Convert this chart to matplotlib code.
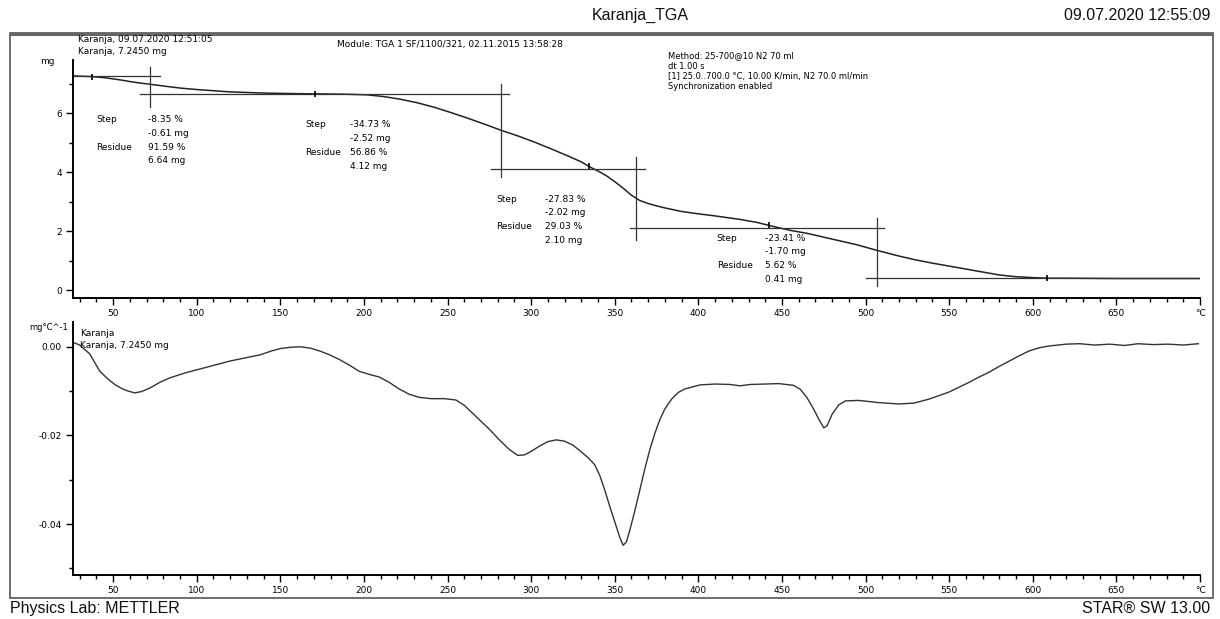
"""Karanja TGA / DTG thermogram (METTLER STAR-style printout)."""
import matplotlib

matplotlib.use("Agg")
import matplotlib.pyplot as plt
from matplotlib.patches import Rectangle
from matplotlib.ticker import MultipleLocator

# --- TGA curve (mass, mg) ---
tga_temp = [26, 37, 45, 50, 55, 60, 66, 72, 80, 90, 100, 110, 120, 140, 160, 175,
            190, 202, 212, 222, 232, 242, 252, 262, 272, 282, 292, 302, 312, 322,
            330, 335, 340, 345, 350, 355, 360, 365, 370, 375, 380, 390, 400, 410,
            425, 435, 445, 455, 465, 475, 485, 495, 507, 520, 530, 540, 550, 560,
            570, 580, 590, 600, 610, 620, 650, 700]
tga_mass = [7.26, 7.24, 7.20, 7.16, 7.12, 7.07, 7.02, 6.98, 6.92, 6.85, 6.80, 6.76,
            6.72, 6.68, 6.66, 6.65, 6.64, 6.62, 6.56, 6.47, 6.35, 6.20, 6.02, 5.83,
            5.63, 5.42, 5.23, 5.02, 4.79, 4.55, 4.35, 4.18, 4.04, 3.88, 3.68, 3.46,
            3.22, 3.04, 2.94, 2.86, 2.79, 2.67, 2.59, 2.52, 2.40, 2.30, 2.16, 2.03,
            1.93, 1.80, 1.67, 1.54, 1.35, 1.16, 1.03, 0.92, 0.82, 0.72, 0.62, 0.52,
            0.46, 0.43, 0.41, 0.41, 0.40, 0.40]

# --- DTG curve (mg/°C) ---
dtg_temp = [26, 30, 36, 42, 47, 51, 55, 59, 63, 67, 72, 78, 84, 93, 102, 120, 138,
            145, 150, 156, 162, 168, 174, 180, 186, 192, 197, 203, 209, 215, 221,
            227, 233, 240, 248, 255, 260, 265, 270, 275, 281, 287, 292, 296, 300,
            305, 310, 315, 320, 325, 329, 334, 338, 341, 344, 347, 350, 353, 355,
            357, 359, 362, 365, 368, 371, 374, 377, 380, 384, 388, 392, 401, 410,
            419, 425, 431, 440, 448, 457, 461, 465, 469, 472, 475, 477, 480, 484,
            488, 496, 508, 520, 529, 538, 544, 550, 556, 562, 568, 574, 580, 586,
            592, 598, 604, 610, 620, 628, 637, 646, 655, 663, 672, 681, 690, 699]
dtg_val = [0.0010, 0.0004, -0.0016, -0.0055, -0.0073, -0.0085, -0.0094, -0.0100,
           -0.0104, -0.0101, -0.0093, -0.0080, -0.0070, -0.0059, -0.0050, -0.0032,
           -0.0018, -0.0009, -0.0004, -0.0001, 0.0000, -0.0003, -0.0010, -0.0019,
           -0.0030, -0.0043, -0.0055, -0.0062, -0.0068, -0.0080, -0.0095, -0.0107,
           -0.0114, -0.0117, -0.0117, -0.0120, -0.0132, -0.0150, -0.0168, -0.0186,
           -0.0210, -0.0232, -0.0245, -0.0244, -0.0236, -0.0224, -0.0214, -0.0210,
           -0.0213, -0.0222, -0.0234, -0.0250, -0.0266, -0.0290, -0.0323, -0.0360,
           -0.0395, -0.0430, -0.0448, -0.0440, -0.0414, -0.0370, -0.0323, -0.0275,
           -0.0232, -0.0195, -0.0164, -0.0140, -0.0118, -0.0103, -0.0095, -0.0086,
           -0.0084, -0.0085, -0.0088, -0.0085, -0.0084, -0.0083, -0.0087, -0.0096,
           -0.0115, -0.0141, -0.0163, -0.0183, -0.0178, -0.0152, -0.0131, -0.0122,
           -0.0121, -0.0126, -0.0129, -0.0127, -0.0118, -0.0110, -0.0102, -0.0091,
           -0.0080, -0.0068, -0.0057, -0.0044, -0.0032, -0.0020, -0.0009, -0.0002,
           0.0002, 0.0006, 0.0007, 0.0004, 0.0006, 0.0003, 0.0007, 0.0005, 0.0006,
           0.0004, 0.0007]

# --- step evaluation ---
level_mass = [7.245, 6.64, 4.12, 2.10, 0.41]
level_from = [26, 66, 276, 359, 500]
level_to = [78, 287, 368, 511, 699]
cut_temp = [72, 282, 362.5, 507]
cut_top = [7.55, 6.98, 4.51, 2.45]
cut_bottom = [6.20, 3.83, 1.71, 0.15]
mark_temp = [37.5, 171, 334.5, 442, 608.5]
mark_mass = [7.24, 6.65, 4.22, 2.20, 0.41]

step_pct = ["-8.35 %", "-34.73 %", "-27.83 %", "-23.41 %"]
step_mg = ["-0.61 mg", "-2.52 mg", "-2.02 mg", "-1.70 mg"]
residue_pct = ["91.59 %", "56.86 %", "29.03 %", "5.62 %"]
residue_mg = ["6.64 mg", "4.12 mg", "2.10 mg", "0.41 mg"]
label_temp = [40, 165, 279, 411]
value_temp = [71, 191.5, 308, 440]
label_top = [5.79, 5.62, 3.09, 1.77]

x_ticks = [50, 100, 150, 200, 250, 300, 350, 400, 450, 500, 550, 600, 650, 700]
x_labels = [str(t) for t in x_ticks[:-1]] + ["°C"]

W, H = 1220, 619
FS = 6.5
INK = "#222222"


def fx(x):
    return x / W


def fy(y):
    return 1 - y / H


def style_axes(ax):
    for side in ("top", "right"):
        ax.spines[side].set_visible(False)
    for side in ("left", "bottom"):
        ax.spines[side].set_linewidth(1.4)
        ax.spines[side].set_color("black")
    ax.set_facecolor("none")
    ax.set_xlim(26, 700)
    ax.set_xticks(x_ticks)
    ax.set_xticklabels(x_labels)
    ax.xaxis.set_minor_locator(MultipleLocator(10))
    ax.tick_params(which="major", length=5, width=1, labelsize=FS, pad=3)
    ax.tick_params(which="minor", length=3, width=1)


fig = plt.figure(figsize=(W / 100, H / 100), dpi=100)

# outer frame and header/footer
fig.patches.append(Rectangle((fx(10), fy(598)), fx(1203), (598 - 33) / H,
                             transform=fig.transFigure, fill=False,
                             edgecolor="#555555", linewidth=1.2))
fig.patches.append(Rectangle((fx(10), fy(34)), fx(1203), 0,
                             transform=fig.transFigure, fill=False,
                             edgecolor="#666666", linewidth=2.2))
hdr = dict(family="Liberation Sans", fontsize=11.5, color="#111111", va="center")
fig.text(fx(640), fy(15), "Karanja_TGA", ha="center", **hdr)
fig.text(fx(1210), fy(15), "09.07.2020 12:55:09", ha="right", **hdr)
fig.text(fx(10), fy(608), "Physics Lab: METTLER", ha="left", **hdr)
fig.text(fx(1210), fy(608), "STAR\u00ae SW 13.00", ha="right", **hdr)

# ---------------- TGA panel ----------------
ax1 = fig.add_axes([fx(73), fy(298), fx(1200) - fx(73), (298 - 60) / H])
style_axes(ax1)
ax1.set_ylim(-0.26, 7.8)
ax1.set_yticks([0, 2, 4, 6])
ax1.yaxis.set_minor_locator(MultipleLocator(1))
ax1.plot(tga_temp, tga_mass, color=INK, lw=1.1)
for m, a, b in zip(level_mass, level_from, level_to):
    ax1.plot([a, b], [m, m], color="#333333", lw=0.9)
for t, a, b in zip(cut_temp, cut_top, cut_bottom):
    ax1.plot([t, t], [a, b], color="#333333", lw=0.9)
ax1.plot(mark_temp, mark_mass, ls="none", marker="|", ms=5, mew=1.2, color="black")
for i in range(4):
    rows = [label_top[i] - k * 0.47 for k in range(4)]
    ax1.text(label_temp[i], rows[0], "Step", fontsize=FS, va="center")
    ax1.text(label_temp[i], rows[2], "Residue", fontsize=FS, va="center")
    for r, s in zip(rows, [step_pct[i], step_mg[i], residue_pct[i], residue_mg[i]]):
        ax1.text(value_temp[i], r, s, fontsize=FS, va="center")

fig.text(fx(40), fy(62), "mg", fontsize=FS, va="center")
fig.text(fx(78), fy(40), "Karanja, 09.07.2020 12:51:05", fontsize=FS, va="center")
fig.text(fx(78), fy(52), "Karanja, 7.2450 mg", fontsize=FS, va="center")
fig.text(fx(337), fy(45), "Module: TGA 1 SF/1100/321, 02.11.2015 13:58:28",
         fontsize=FS, va="center")
method = ["Method: 25-700@10 N2 70 ml", "dt 1.00 s",
          "[1] 25.0..700.0 \u00b0C, 10.00 K/min, N2 70.0 ml/min",
          "Synchronization enabled"]
for k, line in enumerate(method):
    fig.text(fx(668), fy(56 + 10.3 * k), line, fontsize=FS - 0.5, va="center")

# ---------------- DTG panel ----------------
ax2 = fig.add_axes([fx(73), fy(575), fx(1200) - fx(73), (575 - 322) / H])
style_axes(ax2)
ax2.set_ylim(-0.0515, 0.0056)
ax2.set_yticks([0.0, -0.02, -0.04])
ax2.set_yticklabels(["0.00", "-0.02", "-0.04"])
ax2.yaxis.set_minor_locator(MultipleLocator(0.01))
ax2.plot(dtg_temp, dtg_val, color="#333333", lw=1.0)

fig.text(fx(68), fy(327), "mg\u00b0C^-1", fontsize=FS - 0.5, va="center", ha="right")
fig.text(fx(80), fy(334), "Karanja", fontsize=FS, va="center")
fig.text(fx(80), fy(346), "Karanja, 7.2450 mg", fontsize=FS, va="center")

fig.savefig("out.png", dpi=100)
